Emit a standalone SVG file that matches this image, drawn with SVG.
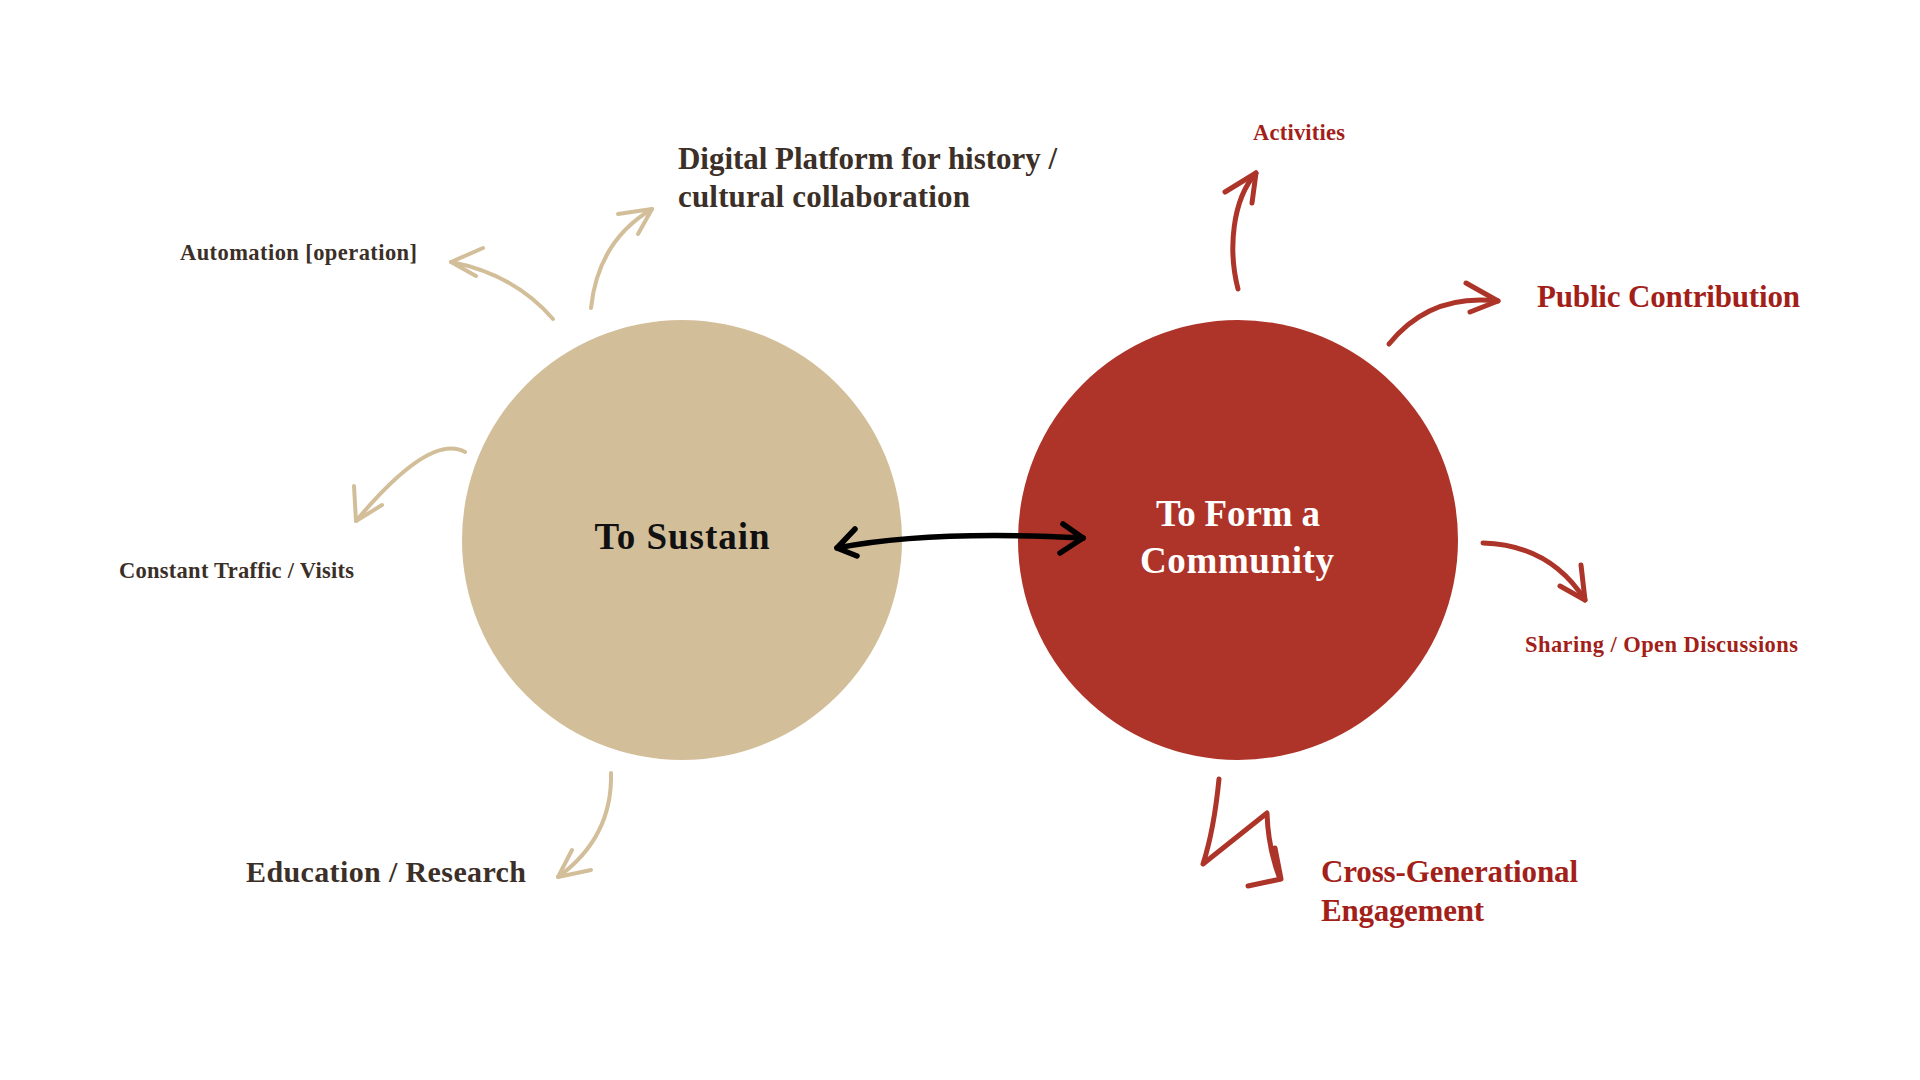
<svg xmlns="http://www.w3.org/2000/svg" width="1920" height="1080" viewBox="0 0 1920 1080">
<style>
text{font-family:"Liberation Serif","Times New Roman",serif;}
.dk{fill:#3b2f27;}
.rd{fill:#a21f1a;}
.wh{fill:#ffffff;}
.b{font-weight:bold;}
.beige{fill:none;stroke:#d3be9a;stroke-width:4;stroke-linecap:round;stroke-linejoin:round;}
.red{fill:none;stroke:#ad3429;stroke-width:5;stroke-linecap:round;stroke-linejoin:round;}
.blk{fill:none;stroke:#000000;stroke-width:5.5;stroke-linecap:round;stroke-linejoin:round;}
</style>
<rect width="1920" height="1080" fill="#ffffff"/>

<g id="node-sustain">
  <circle cx="682" cy="540" r="220" fill="#d3be9a"/>
  <text x="682" y="549" text-anchor="middle" font-size="37" class="b" fill="#111111" textLength="175">To Sustain</text>
</g>

<g id="node-community">
  <circle cx="1238" cy="540" r="220" fill="#ae3429"/>
  <text x="1238" y="526" text-anchor="middle" font-size="37" class="wh b" textLength="164">To Form a</text>
  <text x="1237" y="573" text-anchor="middle" font-size="37" class="wh b" textLength="194">Community</text>
</g>

<g id="label-digital">
  <text x="678" y="169" font-size="31" class="dk b" textLength="379">Digital Platform for history /</text>
  <text x="678" y="207" font-size="31" class="dk b" textLength="292">cultural collaboration</text>
</g>
<g id="label-automation">
  <text x="180" y="260" font-size="22.5" class="dk b" textLength="237">Automation [operation]</text>
</g>
<g id="label-traffic">
  <text x="119" y="578" font-size="22.5" class="dk b" textLength="235">Constant Traffic / Visits</text>
</g>
<g id="label-education">
  <text x="246" y="882" font-size="30" class="dk b" textLength="280">Education / Research</text>
</g>
<g id="label-activities">
  <text x="1253" y="140" font-size="22.5" class="rd b" textLength="92">Activities</text>
</g>
<g id="label-public">
  <text x="1537" y="307" font-size="31" class="rd b" textLength="263">Public Contribution</text>
</g>
<g id="label-sharing">
  <text x="1525" y="652" font-size="22.5" class="rd b" textLength="273">Sharing / Open Discussions</text>
</g>
<g id="label-crossgen">
  <text x="1321" y="882" font-size="31" class="rd b" textLength="257">Cross-Generational</text>
  <text x="1321" y="921" font-size="31" class="rd b" textLength="163">Engagement</text>
</g>

<g id="connectors">
  <path class="beige" d="M553,319 Q514,274 451,262"/>
  <path class="beige" d="M483,248 L451,262 L476,276"/>
  <path class="beige" d="M591,308 Q598,241 652,209"/>
  <path class="beige" d="M618,214 L652,209 L638,234"/>
  <path class="beige" d="M465,452 C440,438 402,466 356,521"/>
  <path class="beige" d="M354,486 L356,521 L382,505"/>
  <path class="beige" d="M611,773 C612,812 598,848 558,877"/>
  <path class="beige" d="M572,850 L558,877 L591,870"/>

  <path class="red" d="M1238,289 C1228,250 1232,200 1256,173"/>
  <path class="red" d="M1225,192 L1256,173 L1252,203"/>
  <path class="red" d="M1389,344 Q1430,293 1498,301"/>
  <path class="red" d="M1466,283 L1498,301 L1470,312"/>
  <path class="red" d="M1483,543 Q1550,545 1585,600"/>
  <path class="red" d="M1560,586 L1585,600 L1581,565"/>
  <path class="red" d="M1219,779 Q1214,830 1203,864 L1267,813 Q1268,848 1280,879"/>
  <path class="red" d="M1275,848 L1281,879 L1248,886"/>

  <path class="blk" d="M837,548 Q930,530 1083,538"/>
  <path class="blk" d="M855,529 L837,548 L857,556"/>
  <path class="blk" d="M1063,524 L1083,538 L1060,553"/>
</g>
</svg>
